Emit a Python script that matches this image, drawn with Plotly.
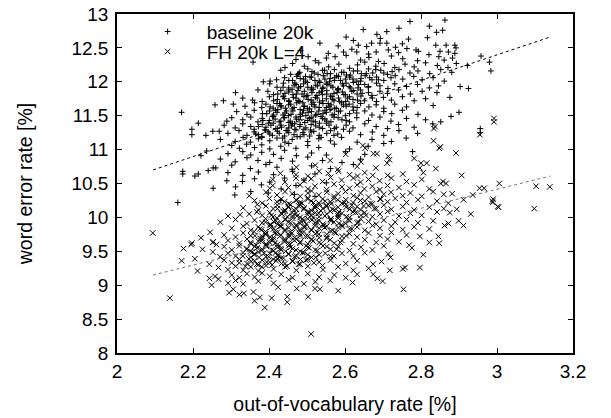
import plotly.graph_objects as go

# ---- data (out-of-vocabulary rate %, word error rate %) ----
baseline_points = [
(2.863,12.91),(2.771,12.89),(2.822,12.82),(2.857,12.76),(2.841,12.73),(2.648,12.77),(2.710,12.74),(2.684,12.70),(2.742,12.79),
(2.767,12.63),(2.817,12.65),(2.603,12.66),(2.622,12.61),(2.693,12.64),
(2.534,12.57),(2.635,12.54),(2.670,12.57),(2.692,12.57),(2.710,12.57),(2.657,12.52),(2.839,12.54),(2.866,12.54),(2.889,12.54),(2.892,12.50),(2.582,12.53),(2.751,12.56),(2.733,12.51),
(2.556,12.42),(2.596,12.44),(2.631,12.44),(2.682,12.44),(2.714,12.47),(2.787,12.47),(2.793,12.45),(2.850,12.45),(2.872,12.44),(2.889,12.42),(2.483,12.46),(2.618,12.48),(2.662,12.41),(2.741,12.43),(2.763,12.49),(2.821,12.40),
(2.574,12.37),(2.503,12.37),(2.958,12.38),(2.471,12.33),(2.522,12.31),(2.551,12.35),(2.603,12.39),(2.641,12.32),(2.663,12.36),(2.688,12.30),(2.722,12.38),(2.752,12.34),(2.791,12.31),(2.847,12.37),(2.861,12.32),(2.883,12.35),
(2.358,12.29),(2.442,12.21),(2.980,12.29),(2.922,12.24),(2.462,12.27),(2.493,12.23),(2.531,12.28),(2.557,12.22),(2.584,12.26),(2.612,12.20),(2.633,12.25),(2.652,12.29),(2.681,12.23),(2.703,12.27),(2.731,12.21),(2.758,12.26),(2.782,12.22),(2.812,12.28),(2.843,12.24),(2.871,12.21),(2.893,12.27),
(2.457,12.11),(2.475,12.11),(2.984,12.16),(2.431,12.17),(2.481,12.14),(2.502,12.19),(2.519,12.13),(2.541,12.17),(2.553,12.12),(2.572,12.18),(2.591,12.14),(2.604,12.10),(2.622,12.16),(2.643,12.12),(2.662,12.19),(2.673,12.13),(2.694,12.17),(2.712,12.11),(2.724,12.15),(2.742,12.18),(2.771,12.13),(2.792,12.16),(2.823,12.12),(2.852,12.18),(2.881,12.14),
(2.385,12.00),(2.403,12.01),(2.420,12.03),(2.441,12.06),(2.462,12.02),(2.473,12.08),(2.491,12.04),(2.512,12.07),(2.532,12.01),(2.543,12.09),(2.561,12.05),(2.572,12.02),(2.583,12.08),(2.601,12.04),(2.612,12.07),(2.631,12.01),(2.642,12.05),(2.653,12.09),(2.671,12.03),(2.683,12.07),(2.702,12.02),(2.721,12.06),(2.732,12.09),(2.752,12.04),(2.781,12.08),(2.803,12.03),(2.832,12.06),(2.861,12.01),
(2.903,11.93),(2.925,11.90),(2.846,11.94),(2.402,11.97),(2.421,11.92),(2.438,11.98),(2.452,11.91),(2.471,11.96),(2.483,11.93),(2.501,11.99),(2.512,11.91),(2.523,11.95),(2.542,11.92),(2.551,11.98),(2.563,11.94),(2.582,11.90),(2.593,11.97),(2.611,11.93),(2.622,11.99),(2.634,11.91),(2.652,11.96),(2.661,11.92),(2.683,11.98),(2.692,11.94),(2.713,11.90),(2.731,11.97),(2.762,11.93),(2.791,11.96),(2.822,11.91),
(2.397,11.86),(2.312,11.84),(2.371,11.88),(2.412,11.81),(2.431,11.87),(2.442,11.83),(2.461,11.89),(2.472,11.82),(2.493,11.86),(2.502,11.80),(2.511,11.88),(2.532,11.84),(2.541,11.81),(2.552,11.87),(2.571,11.83),(2.582,11.89),(2.593,11.85),(2.601,11.81),(2.623,11.87),(2.632,11.82),(2.641,11.88),(2.662,11.84),(2.671,11.80),(2.692,11.86),(2.712,11.83),(2.741,11.88),(2.772,11.82),(2.803,11.86),(2.842,11.84),
(2.280,11.72),(2.357,11.73),(2.876,11.77),(2.331,11.76),(2.382,11.71),(2.401,11.78),(2.422,11.74),(2.438,11.79),(2.452,11.72),(2.471,11.76),(2.481,11.71),(2.492,11.78),(2.511,11.73),(2.522,11.77),(2.533,11.70),(2.551,11.75),(2.562,11.79),(2.571,11.72),(2.583,11.76),(2.602,11.71),(2.612,11.78),(2.621,11.74),(2.642,11.79),(2.651,11.72),(2.672,11.76),(2.683,11.71),(2.701,11.77),(2.722,11.73),(2.751,11.78),(2.782,11.72),(2.812,11.75),
(2.258,11.66),(2.306,11.67),(2.337,11.64),(2.362,11.69),(2.381,11.62),(2.392,11.67),(2.411,11.61),(2.421,11.68),(2.432,11.63),(2.452,11.66),(2.461,11.60),(2.473,11.69),(2.492,11.64),(2.501,11.61),(2.512,11.67),(2.521,11.63),(2.542,11.68),(2.551,11.62),(2.563,11.66),(2.572,11.61),(2.591,11.69),(2.603,11.64),(2.611,11.67),(2.632,11.62),(2.641,11.68),(2.663,11.63),(2.682,11.66),(2.702,11.61),(2.731,11.67),(2.762,11.63),(2.832,11.65),
(2.170,11.55),(2.315,11.56),(2.900,11.55),(2.342,11.52),(2.361,11.58),(2.383,11.53),(2.401,11.57),(2.412,11.51),(2.423,11.59),(2.442,11.54),(2.451,11.50),(2.463,11.57),(2.482,11.52),(2.491,11.58),(2.503,11.55),(2.522,11.51),(2.531,11.57),(2.542,11.53),(2.561,11.59),(2.572,11.52),(2.583,11.56),(2.601,11.50),(2.622,11.58),(2.631,11.54),(2.652,11.57),(2.671,11.51),(2.702,11.56),(2.723,11.53),(2.751,11.58),(2.792,11.52),
(2.289,11.42),(2.879,11.49),(2.302,11.47),(2.331,11.44),(2.352,11.48),(2.371,11.41),(2.382,11.46),(2.401,11.43),(2.412,11.49),(2.431,11.42),(2.441,11.47),(2.452,11.40),(2.472,11.45),(2.483,11.49),(2.502,11.43),(2.511,11.47),(2.522,11.41),(2.541,11.46),(2.552,11.42),(2.571,11.48),(2.592,11.44),(2.612,11.41),(2.631,11.47),(2.662,11.43),(2.692,11.48),(2.721,11.42),(2.762,11.46),(2.812,11.44),(2.852,11.41),
(2.214,11.39),(2.282,11.36),(2.311,11.32),(2.331,11.38),(2.352,11.34),(2.361,11.30),(2.382,11.37),(2.392,11.33),(2.411,11.39),(2.422,11.31),(2.431,11.36),(2.452,11.32),(2.462,11.38),(2.481,11.34),(2.492,11.30),(2.511,11.37),(2.532,11.33),(2.551,11.39),(2.572,11.31),(2.603,11.36),(2.621,11.32),(2.652,11.38),(2.682,11.34),(2.712,11.31),(2.741,11.37),(2.782,11.33),(2.831,11.38),
(2.197,11.30),(2.197,11.22),(2.234,11.21),(2.252,11.27),(2.269,11.27),(2.956,11.31),(2.956,11.25),(2.292,11.24),(2.321,11.28),(2.342,11.21),(2.361,11.26),(2.372,11.22),(2.391,11.29),(2.402,11.23),(2.422,11.27),(2.441,11.20),(2.452,11.25),(2.471,11.29),(2.492,11.22),(2.511,11.26),(2.532,11.21),(2.562,11.28),(2.581,11.23),(2.612,11.27),(2.641,11.22),(2.672,11.26),(2.702,11.21),(2.742,11.28),(2.791,11.24),
(2.272,11.15),(2.311,11.12),(2.332,11.18),(2.351,11.11),(2.372,11.16),(2.381,11.19),(2.402,11.13),(2.421,11.17),(2.442,11.11),(2.461,11.15),(2.482,11.19),(2.502,11.12),(2.531,11.16),(2.562,11.13),(2.591,11.18),(2.632,11.11),(2.671,11.15),(2.722,11.12),(2.761,11.17),
(2.302,11.06),(2.322,11.02),(2.341,11.08),(2.362,11.03),(2.381,11.07),(2.402,11.01),(2.431,11.05),(2.452,11.09),(2.471,11.02),(2.502,11.06),(2.531,11.03),(2.572,11.08),(2.612,11.01),(2.661,11.05),(2.702,11.09),
(2.221,10.91),(2.236,10.98),(2.778,10.97),(2.292,10.94),(2.331,10.97),(2.352,10.92),(2.381,10.96),(2.412,10.93),(2.441,10.99),(2.472,10.91),(2.512,10.95),(2.551,10.92),(2.602,10.97),(2.652,10.93),
(2.272,10.86),(2.311,10.82),(2.342,10.88),(2.371,10.84),(2.402,10.81),(2.432,10.87),(2.462,10.83),(2.502,10.89),(2.541,10.84),(2.592,10.81),(2.641,10.86),
(2.253,10.73),(2.260,10.73),(2.302,10.77),(2.351,10.72),(2.392,10.78),(2.421,10.74),(2.461,10.71),(2.512,10.76),(2.562,10.72),(2.622,10.78),
(2.173,10.68),(2.173,10.64),(2.205,10.61),(2.214,10.64),(2.240,10.69),(2.292,10.66),(2.331,10.62),(2.372,10.67),(2.412,10.63),(2.462,10.68),(2.521,10.64),
(2.289,10.54),(2.330,10.53),(2.362,10.57),(2.402,10.52),(2.441,10.58),(2.492,10.55),(2.551,10.51),
(2.253,10.43),(2.380,10.48),(2.312,10.45),(2.432,10.42),(2.471,10.47),
(2.310,10.33),(2.398,10.36),(2.467,10.34),(2.352,10.38),(2.521,10.31),
(2.160,10.22),(2.431,10.25),
]

# the dark, crowded middle of the baseline cloud
baseline_core_points = [
(2.365,11.23),(2.381,11.18),(2.398,11.26),(2.409,11.21),(2.427,11.24),(2.436,11.17),(2.448,11.28),(2.466,11.22),(2.474,11.19),(2.489,11.25),(2.507,11.20),(2.518,11.27),(2.537,11.18),(2.552,11.24),(2.571,11.21),
(2.372,11.34),(2.389,11.29),(2.405,11.36),(2.418,11.31),(2.433,11.33),(2.445,11.28),(2.459,11.35),(2.468,11.30),(2.482,11.37),(2.497,11.32),(2.509,11.29),(2.523,11.35),(2.541,11.31),(2.558,11.36),(2.577,11.33),(2.596,11.30),
(2.384,11.43),(2.398,11.39),(2.416,11.45),(2.427,11.41),(2.439,11.47),(2.456,11.42),(2.467,11.38),(2.479,11.44),(2.494,11.40),(2.507,11.46),(2.516,11.42),(2.533,11.39),(2.547,11.45),(2.563,11.41),(2.582,11.47),(2.603,11.43),
(2.394,11.53),(2.409,11.49),(2.421,11.55),(2.437,11.51),(2.446,11.57),(2.458,11.52),(2.471,11.48),(2.488,11.54),(2.497,11.50),(2.512,11.56),(2.526,11.52),(2.537,11.49),(2.551,11.55),(2.566,11.51),(2.588,11.57),(2.612,11.53),
(2.403,11.63),(2.417,11.58),(2.431,11.65),(2.443,11.61),(2.457,11.67),(2.466,11.62),(2.482,11.59),(2.493,11.64),(2.507,11.60),(2.519,11.66),(2.532,11.62),(2.547,11.58),(2.558,11.64),(2.577,11.61),(2.596,11.66),(2.621,11.63),
(2.412,11.72),(2.428,11.68),(2.441,11.75),(2.453,11.71),(2.464,11.77),(2.477,11.72),(2.489,11.69),(2.503,11.74),(2.516,11.70),(2.527,11.76),(2.541,11.72),(2.556,11.68),(2.568,11.74),(2.586,11.71),(2.607,11.76),(2.633,11.73),
(2.423,11.82),(2.437,11.78),(2.452,11.85),(2.463,11.81),(2.476,11.87),(2.487,11.82),(2.498,11.79),(2.513,11.84),(2.526,11.80),(2.538,11.86),(2.552,11.82),(2.566,11.78),(2.579,11.84),(2.597,11.81),(2.618,11.86),(2.645,11.83),
(2.437,11.92),(2.452,11.88),(2.466,11.95),(2.478,11.91),(2.491,11.97),(2.502,11.92),(2.516,11.89),(2.528,11.94),(2.541,11.90),(2.553,11.96),(2.568,11.92),(2.581,11.88),(2.596,11.94),(2.614,11.91),(2.636,11.96),(2.662,11.93),
(2.452,12.02),(2.468,11.98),(2.482,12.05),(2.496,12.01),(2.508,12.07),(2.521,12.02),(2.534,11.99),(2.547,12.04),(2.559,12.00),(2.573,12.06),(2.588,12.02),(2.603,11.98),(2.621,12.04),(2.641,12.01),(2.665,12.06),(2.688,12.03),
(2.478,12.12),(2.496,12.08),(2.513,12.15),(2.529,12.11),(2.546,12.17),(2.562,12.12),(2.578,12.09),(2.597,12.14),(2.614,12.10),(2.633,12.16),(2.656,12.12),(2.681,12.18),(2.702,12.13),
]

fh_points = [
(2.992,11.46),(2.992,11.41),(2.837,11.34),(2.834,11.31),
(2.955,11.22),(2.833,11.13),
(2.848,11.02),(2.851,11.04),(2.653,11.02),(2.647,11.06),
(2.892,10.95),(2.714,10.90),(2.684,10.94),(2.675,10.94),(2.602,10.93),
(2.782,10.87),(2.800,10.80),(2.815,10.80),(2.711,10.80),(2.717,10.85),(2.561,10.84),(2.642,10.82),
(2.797,10.73),(2.839,10.72),(2.472,10.74),(2.522,10.77),(2.581,10.71),(2.632,10.75),(2.681,10.73),
(2.430,10.65),(2.907,10.62),(2.806,10.66),(2.556,10.65),(2.583,10.68),(2.612,10.63),(2.633,10.61),(2.652,10.66),(2.673,10.62),(2.712,10.62),(2.752,10.64),(2.502,10.61),(2.532,10.68),(2.471,10.63),
(2.410,10.56),(2.442,10.52),(2.471,10.58),(2.492,10.54),(2.511,10.57),(2.541,10.53),(2.562,10.59),(2.591,10.55),(2.622,10.58),(2.641,10.52),(2.662,10.56),(2.691,10.54),(2.722,10.58),(2.762,10.53),(2.858,10.53),(2.866,10.50),(2.852,10.50),(3.006,10.50),(2.802,10.56),
(2.410,10.47),(2.451,10.44),(2.482,10.48),(2.502,10.42),(2.521,10.46),(2.552,10.41),(2.571,10.49),(2.592,10.45),(2.612,10.43),(2.632,10.48),(2.651,10.42),(2.672,10.46),(2.692,10.41),(2.712,10.47),(2.742,10.44),(2.782,10.48),(2.822,10.42),(2.954,10.43),(2.966,10.43),(3.139,10.45),(3.103,10.46),(2.402,10.43),
(2.348,10.32),(2.936,10.33),(2.860,10.34),(2.392,10.37),(2.421,10.33),(2.442,10.38),(2.461,10.35),(2.482,10.31),(2.502,10.36),(2.512,10.39),(2.531,10.33),(2.552,10.37),(2.571,10.31),(2.582,10.35),(2.601,10.38),(2.622,10.32),(2.641,10.36),(2.662,10.30),(2.682,10.38),(2.702,10.34),(2.721,10.37),(2.752,10.32),(2.772,10.36),(2.802,10.31),(2.832,10.38),(2.882,10.35),
(2.912,10.26),(2.990,10.27),(2.988,10.24),(2.989,10.22),(2.362,10.25),(2.382,10.21),(2.401,10.28),(2.421,10.23),(2.432,10.27),(2.452,10.20),(2.471,10.26),(2.482,10.22),(2.502,10.29),(2.511,10.24),(2.532,10.21),(2.541,10.27),(2.562,10.23),(2.571,10.28),(2.592,10.21),(2.602,10.26),(2.621,10.22),(2.632,10.29),(2.652,10.24),(2.672,10.20),(2.692,10.27),(2.712,10.23),(2.732,10.28),(2.762,10.22),(2.792,10.26),(2.842,10.24),(2.872,10.21),
(2.369,10.19),(3.004,10.15),(3.098,10.13),(3.002,10.16),(2.894,10.12),(2.860,10.13),(2.332,10.14),(2.372,10.11),(2.392,10.17),(2.411,10.13),(2.422,10.18),(2.442,10.11),(2.451,10.16),(2.472,10.12),(2.481,10.19),(2.492,10.14),(2.512,10.10),(2.521,10.17),(2.542,10.13),(2.551,10.18),(2.572,10.11),(2.582,10.15),(2.602,10.19),(2.612,10.12),(2.632,10.16),(2.641,10.11),(2.662,10.17),(2.682,10.13),(2.702,10.18),(2.722,10.12),(2.752,10.16),(2.782,10.11),(2.822,10.15),
(2.324,10.04),(2.348,10.05),(2.368,10.08),(2.931,10.05),(2.876,10.07),(2.292,10.02),(2.382,10.03),(2.402,10.07),(2.411,10.01),(2.432,10.06),(2.442,10.09),(2.462,10.02),(2.471,10.06),(2.482,10.00),(2.502,10.08),(2.511,10.03),(2.522,10.07),(2.532,10.01),(2.552,10.05),(2.561,10.09),(2.582,10.02),(2.592,10.06),(2.612,10.00),(2.621,10.08),(2.642,10.03),(2.652,10.07),(2.672,10.01),(2.692,10.05),(2.712,10.09),(2.742,10.02),(2.772,10.06),(2.802,10.03),(2.842,10.08),
(2.899,9.95),(2.272,9.93),(2.312,9.97),(2.342,9.91),(2.362,9.96),(2.382,9.92),(2.391,9.98),(2.412,9.94),(2.422,9.90),(2.442,9.97),(2.451,9.93),(2.462,9.99),(2.482,9.91),(2.491,9.95),(2.502,9.98),(2.522,9.92),(2.531,9.96),(2.542,9.90),(2.562,9.97),(2.571,9.93),(2.582,9.99),(2.602,9.91),(2.612,9.95),(2.632,9.92),(2.641,9.98),(2.662,9.94),(2.682,9.90),(2.702,9.96),(2.732,9.93),(2.762,9.97),(2.792,9.92),(2.832,9.95),(2.872,9.91),
(2.912,9.88),(2.302,9.84),(2.332,9.87),(2.352,9.81),(2.372,9.86),(2.381,9.82),(2.402,9.89),(2.412,9.83),(2.432,9.87),(2.441,9.80),(2.452,9.85),(2.472,9.89),(2.481,9.82),(2.492,9.86),(2.512,9.81),(2.521,9.88),(2.532,9.84),(2.552,9.87),(2.562,9.80),(2.582,9.85),(2.591,9.89),(2.612,9.83),(2.632,9.86),(2.652,9.81),(2.672,9.88),(2.692,9.84),(2.722,9.87),(2.752,9.82),(2.782,9.86),(2.822,9.83),(2.862,9.88),
(2.094,9.77),(2.221,9.70),(2.245,9.78),(2.846,9.72),(2.797,9.72),(2.282,9.74),(2.312,9.71),(2.332,9.77),(2.352,9.73),(2.361,9.79),(2.382,9.72),(2.391,9.76),(2.412,9.70),(2.422,9.78),(2.432,9.74),(2.452,9.71),(2.461,9.77),(2.482,9.73),(2.492,9.79),(2.502,9.72),(2.522,9.76),(2.532,9.70),(2.552,9.75),(2.572,9.78),(2.592,9.72),(2.612,9.76),(2.632,9.71),(2.662,9.77),(2.692,9.73),(2.722,9.78),(2.762,9.74),
(2.195,9.60),(2.252,9.63),(2.262,9.60),(2.253,9.64),(2.197,9.62),(2.822,9.63),(2.848,9.62),(2.292,9.66),(2.322,9.62),(2.342,9.68),(2.352,9.61),(2.372,9.65),(2.382,9.69),(2.402,9.63),(2.411,9.67),(2.422,9.60),(2.442,9.66),(2.452,9.62),(2.472,9.68),(2.482,9.64),(2.502,9.61),(2.512,9.67),(2.532,9.63),(2.552,9.69),(2.572,9.62),(2.592,9.66),(2.622,9.61),(2.652,9.67),(2.682,9.63),(2.712,9.68),(2.742,9.64),
(2.175,9.54),(2.225,9.53),(2.769,9.59),(2.776,9.55),(2.282,9.57),(2.302,9.52),(2.322,9.58),(2.342,9.54),(2.351,9.50),(2.362,9.57),(2.382,9.53),(2.392,9.59),(2.412,9.51),(2.422,9.56),(2.432,9.52),(2.452,9.58),(2.462,9.54),(2.482,9.50),(2.502,9.56),(2.522,9.52),(2.542,9.58),(2.562,9.53),(2.582,9.57),(2.612,9.51),(2.642,9.56),(2.672,9.52),(2.702,9.58),
(2.252,9.49),(2.714,9.46),(2.720,9.41),(2.806,9.45),(2.271,9.42),(2.292,9.47),(2.312,9.43),(2.332,9.48),(2.352,9.41),(2.362,9.46),(2.372,9.49),(2.392,9.42),(2.402,9.47),(2.422,9.44),(2.432,9.40),(2.452,9.46),(2.472,9.43),(2.492,9.48),(2.512,9.41),(2.532,9.45),(2.562,9.42),(2.592,9.47),(2.622,9.43),(2.652,9.48),
(2.205,9.39),(2.170,9.36),(2.243,9.31),(2.674,9.31),(2.696,9.35),(2.282,9.37),(2.302,9.33),(2.322,9.38),(2.342,9.32),(2.362,9.36),(2.372,9.30),(2.382,9.37),(2.402,9.34),(2.422,9.39),(2.442,9.32),(2.462,9.36),(2.482,9.31),(2.502,9.38),(2.532,9.34),(2.562,9.37),(2.602,9.32),(2.632,9.36),
(2.212,9.21),(2.267,9.26),(2.718,9.22),(2.758,9.26),(2.797,9.26),(2.752,9.24),(2.292,9.23),(2.312,9.28),(2.332,9.22),(2.352,9.27),(2.372,9.21),(2.392,9.29),(2.412,9.24),(2.442,9.27),(2.472,9.22),(2.502,9.28),(2.542,9.23),(2.582,9.27),(2.622,9.22),(2.662,9.25),
(2.258,9.13),(2.243,9.10),(2.267,9.09),(2.674,9.16),(2.632,9.16),(2.685,9.10),(2.302,9.15),(2.322,9.11),(2.342,9.17),(2.362,9.12),(2.382,9.18),(2.402,9.13),(2.432,9.16),(2.462,9.11),(2.502,9.17),(2.532,9.12),(2.572,9.15),(2.602,9.11),
(2.249,9.00),(2.561,9.07),(2.620,9.04),(2.699,9.06),(2.292,9.03),(2.312,9.07),(2.332,9.02),(2.372,9.06),(2.412,9.03),(2.452,9.08),(2.492,9.02),(2.522,9.05),
(2.534,8.94),(2.754,8.94),(2.306,8.94),(2.359,8.90),(2.424,8.97),(2.473,8.95),(2.521,8.95),(2.582,8.92),
(2.139,8.81),(2.376,8.82),(2.407,8.81),(2.448,8.83),(2.503,8.83),(2.295,8.89),(2.322,8.86),(2.334,8.88),
(2.448,8.75),(2.362,8.77),
(2.389,8.67),
(2.511,8.28),
]

# the dark, crowded middle of the FH cloud
fh_core_points = [
(2.322,9.33),(2.338,9.28),(2.353,9.35),(2.368,9.31),(2.381,9.27),(2.394,9.34),(2.408,9.30),(2.419,9.36),(2.433,9.32),(2.447,9.28),(2.462,9.35),(2.478,9.31),(2.497,9.37),(2.518,9.33),(2.541,9.29),
(2.331,9.43),(2.347,9.39),(2.361,9.45),(2.374,9.41),(2.387,9.47),(2.399,9.42),(2.411,9.38),(2.426,9.44),(2.438,9.40),(2.451,9.46),(2.467,9.42),(2.483,9.38),(2.502,9.45),(2.523,9.41),(2.548,9.47),(2.571,9.43),
(2.341,9.53),(2.356,9.49),(2.369,9.55),(2.381,9.51),(2.394,9.57),(2.407,9.52),(2.418,9.48),(2.431,9.54),(2.444,9.50),(2.457,9.56),(2.471,9.52),(2.488,9.48),(2.506,9.55),(2.527,9.51),(2.552,9.57),(2.578,9.53),
(2.352,9.63),(2.366,9.59),(2.379,9.65),(2.392,9.61),(2.404,9.67),(2.416,9.62),(2.428,9.58),(2.441,9.64),(2.454,9.60),(2.467,9.66),(2.482,9.62),(2.498,9.58),(2.516,9.65),(2.537,9.61),(2.561,9.67),(2.588,9.63),
(2.363,9.73),(2.377,9.69),(2.391,9.75),(2.403,9.71),(2.416,9.77),(2.428,9.72),(2.441,9.68),(2.453,9.74),(2.467,9.70),(2.481,9.76),(2.496,9.72),(2.512,9.68),(2.531,9.75),(2.552,9.71),(2.576,9.77),(2.603,9.73),
(2.376,9.83),(2.391,9.79),(2.404,9.85),(2.417,9.81),(2.429,9.87),(2.442,9.82),(2.455,9.78),(2.468,9.84),(2.482,9.80),(2.496,9.86),(2.511,9.82),(2.527,9.78),(2.546,9.85),(2.567,9.81),(2.592,9.87),(2.618,9.83),
(2.391,9.93),(2.405,9.89),(2.418,9.95),(2.431,9.91),(2.444,9.97),(2.457,9.92),(2.471,9.88),(2.484,9.94),(2.498,9.90),(2.513,9.96),(2.528,9.92),(2.544,9.88),(2.563,9.95),(2.584,9.91),(2.608,9.97),(2.636,9.93),
(2.406,10.03),(2.421,9.99),(2.434,10.05),(2.448,10.01),(2.461,10.07),(2.474,10.02),(2.488,9.98),(2.502,10.04),(2.516,10.00),(2.531,10.06),(2.547,10.02),(2.563,9.98),(2.582,10.05),(2.604,10.01),(2.628,10.07),(2.655,10.03),
(2.422,10.13),(2.437,10.09),(2.451,10.15),(2.465,10.11),(2.478,10.17),(2.492,10.12),(2.506,10.08),(2.521,10.14),(2.536,10.10),(2.551,10.16),(2.567,10.12),(2.584,10.08),(2.603,10.15),(2.625,10.11),(2.649,10.17),(2.677,10.13),
(2.441,10.23),(2.457,10.19),(2.472,10.25),(2.487,10.21),(2.502,10.27),(2.517,10.22),(2.533,10.18),(2.548,10.24),(2.564,10.20),(2.581,10.26),(2.599,10.22),(2.618,10.18),(2.641,10.25),(2.667,10.21),(2.694,10.27),
]

# dotted trend lines, endpoints
fit_oov = [2.095, 3.14]
baseline_fit_wer = [10.70, 12.66]
fh_fit_wer = [9.15, 10.61]

series_names = ["baseline 20k", "FH 20k L=4"]
x_ticks = [2, 2.2, 2.4, 2.6, 2.8, 3, 3.2]
x_tick_labels = ["2", "2.2", "2.4", "2.6", "2.8", "3", "3.2"]
y_ticks = [8, 8.5, 9, 9.5, 10, 10.5, 11, 11.5, 12, 12.5, 13]
y_tick_labels = ["8", "8.5", "9", "9.5", "10", "10.5", "11", "11.5", "12", "12.5", "13"]

baseline_all = baseline_points + baseline_core_points
fh_all = fh_points + fh_core_points
baseline_oov = [p[0] for p in baseline_all]
baseline_wer = [p[1] for p in baseline_all]
fh_oov = [p[0] for p in fh_all]
fh_wer = [p[1] for p in fh_all]

FONT = "Liberation Sans, Arial, Helvetica, sans-serif"

fig = go.Figure()
fig.add_trace(go.Scatter(
    x=baseline_oov, y=baseline_wer, mode="markers", name=series_names[0],
    legend="legend",
    marker=dict(symbol="cross-thin", size=4.2, color="black",
                line=dict(width=1, color="black")),
))
fig.add_trace(go.Scatter(
    x=fh_oov, y=fh_wer, mode="markers", name=series_names[1],
    legend="legend2",
    marker=dict(symbol="x-thin", size=5.5, color="black",
                line=dict(width=1, color="black")),
))
fig.add_trace(go.Scatter(
    x=fit_oov, y=baseline_fit_wer, mode="lines", showlegend=False,
    line=dict(color="black", width=1, dash="dot"), hoverinfo="skip",
))
fig.add_trace(go.Scatter(
    x=fit_oov, y=fh_fit_wer, mode="lines", showlegend=False,
    line=dict(color="#777777", width=1, dash="dot"), hoverinfo="skip",
))

axis_common = dict(
    showgrid=False, zeroline=False, showline=True, linecolor="black", linewidth=1.5,
    mirror="ticks", ticks="inside", ticklen=5, tickwidth=1, tickcolor="black",
    ticklabeloverflow="allow",
    tickfont=dict(family=FONT, size=19, color="black"),
)

legend_common = dict(xanchor="left", yanchor="middle", bgcolor="rgba(0,0,0,0)",
                     borderwidth=0, itemwidth=68,
                     font=dict(family=FONT, size=19, color="black"))

fig.update_layout(
    width=611, height=418,
    margin=dict(l=117, r=38, t=14, b=65, autoexpand=False),
    paper_bgcolor="white", plot_bgcolor="white",
    font=dict(family=FONT, color="black"),
    xaxis=dict(range=[2, 3.2], tickvals=x_ticks, ticktext=x_tick_labels,
               ticklabelstandoff=0,
               title=dict(text="out-of-vocabulary rate [%]", standoff=17,
                          font=dict(family=FONT, size=19.5, color="black")),
               **axis_common),
    yaxis=dict(range=[8, 13], tickvals=y_ticks, ticktext=y_tick_labels,
               ticklabelstandoff=3,
               title=dict(text="word error rate [%]", standoff=34,
                          font=dict(family=FONT, size=19.5, color="black")),
               **axis_common),
    legend=dict(x=0.0255, y=0.948, **legend_common),
    legend2=dict(x=0.0255, y=0.889, **legend_common),
    showlegend=True,
)

# remove the browser's default 8px page margin so the figure sits at the window corner
fig.write_html("out.html", config={"displayModeBar": False},
               post_script="document.body.style.margin='0';")
